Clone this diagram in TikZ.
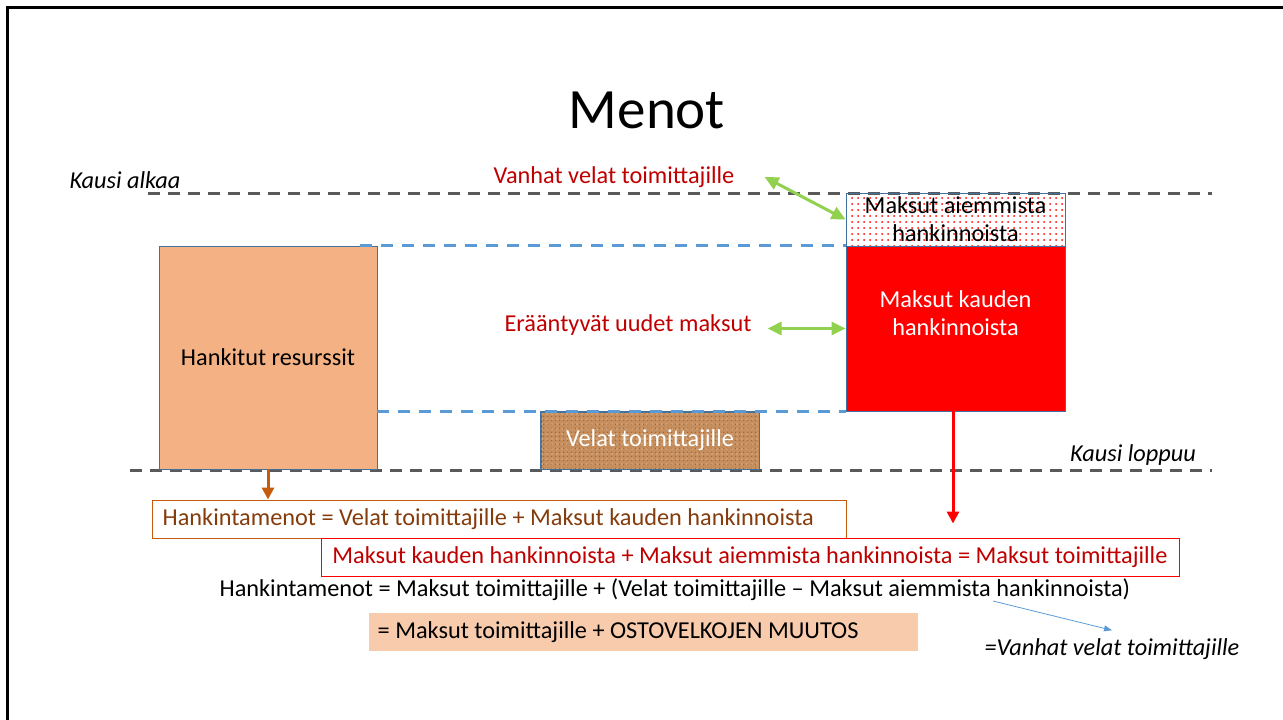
\documentclass[tikz,border=0pt]{standalone}
\usepackage{fontspec}
\setmainfont{Carlito}
\usepackage{tikz}
\usetikzlibrary{arrows.meta,patterns.meta,calc}
\definecolor{gridgray}{HTML}{595959}
\definecolor{lineblue}{HTML}{5B9BD5}
\definecolor{edgeblue}{HTML}{41719C}
\definecolor{hankfill}{HTML}{F4B183}
\definecolor{arrgreen}{HTML}{92D050}
\definecolor{txtred}{HTML}{C00000}
\definecolor{arrbrown}{HTML}{C55A11}
\definecolor{txtbrown}{HTML}{843C0C}
\definecolor{peach}{HTML}{F8CBAD}
\definecolor{cork}{HTML}{C68E5C}
\definecolor{corkdark}{HTML}{9A6638}

\begin{document}
\begin{tikzpicture}[x=1pt,y=-1pt,
  every node/.style={font=\fontsize{24.3}{28}\selectfont,inner sep=0pt},
  kausi/.style={font=\fontsize{24.3}{28}\selectfont\itshape},
  redtxt/.style={text=txtred},
  bar/.style={draw=edgeblue,line width=0.8pt,minimum width=218pt},
  gline/.style={draw=gridgray,line width=3pt,dash pattern=on 12pt off 8pt},
  bline/.style={draw=lineblue,line width=2.5pt,dash pattern=on 12pt off 9pt},
  garrow/.style={draw=arrgreen,line width=3pt,{Triangle[length=14pt,width=13pt]}-{Triangle[length=14pt,width=13pt]}},
  eqbox/.style={minimum height=38pt,line width=1pt}]
\useasboundingbox (0,0) rectangle (1283,720);
% slide frame
\draw[line width=3pt] (7,720) -- (7,7) -- (1283,7);

\node[font=\fontsize{57}{62}\selectfont] (title) at (647,110) {Menot};

% period lines
\draw[gline] (148,193) -- (1212,193);
\draw[gline] (130,470) -- (1212,470);
\node[kausi] (alkaa) at (125,180) {Kausi alkaa};
\node[kausi] (loppuu) at (1133,455) {Kausi loppuu};

% boxes
\node[bar,fill=hankfill,minimum height=223pt] (hank) at (268,357.5) {Hankitut resurssit};
\node[bar,fill=cork,minimum height=57pt,text=white] (velat) at (650,440.5) {};
\fill[pattern={Dots[distance=4pt,radius=0.9pt]},pattern color=corkdark]
  (velat.south west) rectangle (velat.north east);
\fill[pattern={Dots[distance=5pt,radius=0.7pt,xshift=2pt,yshift=1pt]},pattern color=white!70!cork]
  (velat.south west) rectangle (velat.north east);
\draw[edgeblue,line width=0.8pt] (velat.south west) rectangle (velat.north east);
\node[text=white] at (velat.center) {Velat toimittajille};
\node[bar,minimum width=219pt,minimum height=53pt,
  pattern={Dots[distance=6pt,radius=1pt]},pattern color=red,align=center] (aiem) at (955.5,219.5)
  {Maksut aiemmista\\hankinnoista};
\node[bar,minimum width=219pt,minimum height=165pt,fill=red,
  label={[yshift=15pt,align=center,text=white]center:Maksut kauden\\hankinnoista}] (kauden) at (955.5,328.5) {};

% due lines
\draw[bline] ([xshift=-17pt]hank.north east) -- (kauden.north west);
\draw[bline] (hank.east |- kauden.south) -- (kauden.south west);

% payment labels
\node[redtxt] (vanhat) at (614,177) {Vanhat velat toimittajille};
\node[redtxt] (eraant) at (628,325) {Erääntyvät uudet maksut};
\draw[garrow] ([xshift=30pt]vanhat.east) -- (aiem.west);
\draw[garrow] ([xshift=16pt]eraant.east |- kauden.west) -- (kauden.west);

% equations
\node[eqbox,draw=arrbrown,minimum width=694pt,
  label={[anchor=west,xshift=11pt,text=txtbrown]west:Hankintamenot = Velat toimittajille + Maksut kauden hankinnoista}] (hkeq) at (499,519) {};
\node[eqbox,draw=red,fill=white,redtxt,minimum width=858pt] (mkeq) at (750,557)
  {Maksut kauden hankinnoista + Maksut aiemmista hankinnoista = Maksut toimittajille};
\node (toteq) at (675,590)
  {Hankintamenot = Maksut toimittajille + (Velat toimittajille -- Maksut aiemmista hankinnoista)};
\node[eqbox,fill=peach,minimum width=549pt,
  label={[anchor=west,xshift=9pt]west:= Maksut toimittajille + OSTOVELKOJEN MUUTOS}] (muutos) at (643.5,632) {};
\node[kausi] (vanh2) at (1112,649) {=Vanhat velat toimittajille};

\draw[arrbrown,line width=3pt,-{Triangle[length=12pt,width=12pt]}] (hank.south) -- (hank.south |- hkeq.north);
\draw[red,line width=3pt,-{Triangle[length=12pt,width=12pt]}] ([xshift=-2.5pt]kauden.south) -- ([xshift=-2.5pt,yshift=14pt]kauden.south |- mkeq.north);
\coordinate (hkstart) at (993,601);
\draw[lineblue,line width=0.8pt,-{Triangle[length=8pt,width=6pt]}] (hkstart) -- ([yshift=8pt]vanh2.north);
\end{tikzpicture}
\end{document}
